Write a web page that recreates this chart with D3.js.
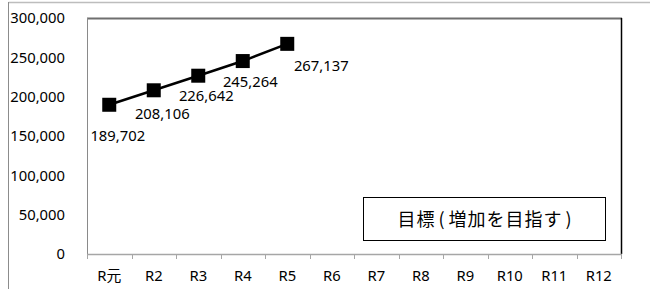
<!DOCTYPE html>
<html>
<head>
<meta charset="utf-8">
<script src="https://cdn.jsdelivr.net/npm/d3@7"></script>
<style>
  html, body { margin: 0; padding: 0; background: #fff; }
  svg { display: block; }
  text { font-family: "Noto Sans", "Noto Sans CJK JP", sans-serif; fill: #000; }
</style>
</head>
<body>
<svg id="chart" width="650" height="289"></svg>
<script>
const categories = ["R元", "R2", "R3", "R4", "R5", "R6", "R7", "R8", "R9", "R10", "R11", "R12"];
const values = [189702, 208106, 226642, 245264, 267137];
const yTicks = [0, 50000, 100000, 150000, 200000, 250000, 300000];
const legendParts = ["目標", "(", "増加を目指す", ")"];
// label placement (pixel nudges relative to point)
const labelDx = [8.5, 8.5, 8, 7.5, 34];
const labelDy = [31, 24, 20, 21, 22];

(function () {
const svg = d3.select("#chart");
const pL = 87, pR = 621, pT = 18, pB = 254;

const x = d3.scaleBand().domain(categories).range([pL, pR]).padding(0);
const y = d3.scaleLinear().domain([0, 300000]).range([pB, pT]);

// outer frame
svg.append("line").attr("x1", 8.5).attr("x2", 650).attr("y1", 2.5).attr("y2", 2.5)
  .attr("stroke", "#bdbdbd").attr("stroke-width", 1.5);
svg.append("line").attr("x1", 8.5).attr("x2", 8.5).attr("y1", 2).attr("y2", 289)
  .attr("stroke", "#8c8c8c").attr("stroke-width", 1);

// plot area borders
svg.append("line").attr("x1", pL).attr("x2", pR + 1).attr("y1", pT + 0.5).attr("y2", pT + 0.5)
  .attr("stroke", "#6f6f6f").attr("stroke-width", 2);
svg.append("line").attr("x1", pR + 0.5).attr("x2", pR + 0.5).attr("y1", pT).attr("y2", pB)
  .attr("stroke", "#000").attr("stroke-width", 1.5);
svg.append("line").attr("x1", pL + 0.5).attr("x2", pL + 0.5).attr("y1", pT).attr("y2", pB + 5)
  .attr("stroke", "#8a8a8a").attr("stroke-width", 1);

// x axis line + ticks at band boundaries
svg.append("line").attr("x1", pL).attr("x2", pR + 1).attr("y1", pB + 0.5).attr("y2", pB + 0.5)
  .attr("stroke", "#a6a6a6").attr("stroke-width", 1.5);
const bounds = categories.map(c => x(c)).concat([x(categories[categories.length - 1]) + x.bandwidth()]);
svg.selectAll("line.tick").data(bounds).enter().append("line")
  .attr("class", "tick")
  .attr("x1", d => Math.round(d) + 0.5).attr("x2", d => Math.round(d) + 0.5)
  .attr("y1", pB).attr("y2", pB + 5)
  .attr("stroke", "#a6a6a6").attr("stroke-width", 1);

// y axis labels
const yAxis = d3.axisLeft(y).tickValues(yTicks).tickFormat(d3.format(",")).tickSize(0).tickPadding(22);
const gy = svg.append("g").attr("transform", `translate(${pL},0)`).call(yAxis);
gy.select(".domain").remove();
gy.selectAll("text").style("font-size", "14.8px").style("font-family", "'Noto Sans', sans-serif").attr("fill", "#000");

// x axis labels
const xAxis = d3.axisBottom(x).tickSize(0).tickPadding(0);
const gx = svg.append("g").attr("transform", `translate(0,${pB})`).call(xAxis);
gx.select(".domain").remove();
gx.selectAll("text").style("font-size", "14.8px").style("font-family", "'Noto Sans', 'Noto Sans CJK JP', sans-serif").attr("fill", "#000")
  .attr("y", 22).attr("dy", "0.32em");

// line
const pts = values.map((v, i) => ({ cx: x(categories[i]) + x.bandwidth() / 2, cy: y(v), v, i }));
svg.append("path").datum(pts)
  .attr("d", d3.line().x(d => d.cx).y(d => d.cy))
  .attr("fill", "none").attr("stroke", "#000").attr("stroke-width", 2.5);

// markers
svg.selectAll("rect.mk").data(pts).enter().append("rect")
  .attr("class", "mk")
  .attr("x", d => d.cx - 7).attr("y", d => d.cy - 7)
  .attr("width", 14).attr("height", 14).attr("fill", "#000");

// data labels
svg.selectAll("text.lbl").data(pts).enter().append("text")
  .attr("class", "lbl")
  .attr("x", d => d.cx + labelDx[d.i]).attr("y", d => d.cy + labelDy[d.i])
  .attr("text-anchor", "middle").attr("dy", "0.35em")
  .style("font-size", "14.8px")
  .text(d => d3.format(",")(d.v));

// legend box
svg.append("rect").attr("x", 363.5).attr("y", 197.5).attr("width", 242).attr("height", 43)
  .attr("fill", "#fff").attr("stroke", "#000").attr("stroke-width", 1);
const lt = svg.append("text").attr("x", 485).attr("y", 219.5)
  .attr("text-anchor", "middle").attr("dy", "0.35em")
  .style("font-family", "'Noto Sans CJK JP', sans-serif").style("font-size", "18px")
  .style("letter-spacing", "1px");
lt.selectAll("tspan").data(legendParts).enter().append("tspan")
  .attr("dx", (d, i) => i === 0 ? 0 : 3)
  .text(d => d);
})();
</script>
</body>
</html>
